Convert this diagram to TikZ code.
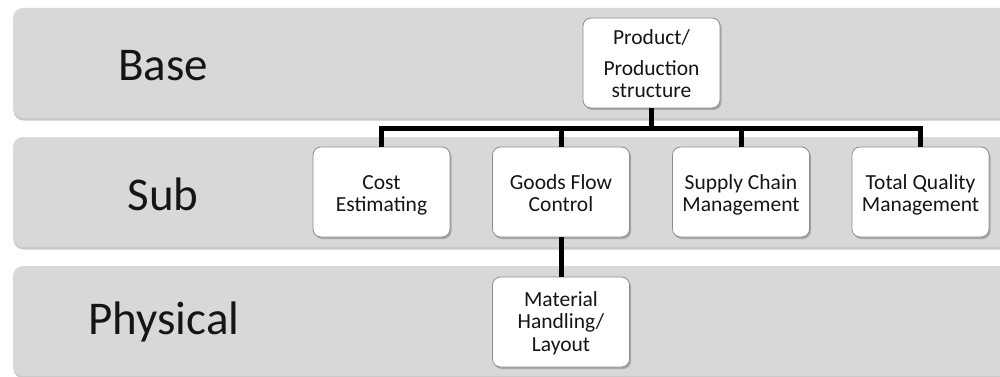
\documentclass[tikz,border=0pt]{standalone}
\usepackage{fontspec}
\setmainfont{Carlito}
\usetikzlibrary{shadows}
\definecolor{bandgray}{HTML}{D8D8D8}
\definecolor{boxedge}{HTML}{8C8C8C}
\definecolor{inktext}{HTML}{151515}
% stacked, centred lines of a unit, set a little below the box centre
\newcommand{\unitlines}[2][4pt]{\raisebox{-#1}[\height][\depth]{\begin{tabular}{@{}c@{}}#2\end{tabular}}}
\begin{document}
\begin{tikzpicture}[x=1pt,y=-1pt,
  band/.style={fill=bandgray, draw=none, rounded corners=10pt,
    drop shadow={shadow xshift=0.5pt, shadow yshift=-2.5pt, opacity=0.35, fill=black!60}},
  bandlabel/.style={font=\fontsize{47}{52}\selectfont, text=inktext, anchor=center},
  unit/.style={draw=boxedge, line width=0.8pt, fill=white, rounded corners=8pt,
    minimum width=137pt, minimum height=90pt, inner sep=0pt,
    font=\fontsize{21.5}{22.5}\selectfont, text=inktext,
    drop shadow={shadow xshift=1.5pt, shadow yshift=-2pt, opacity=0.35, fill=black!70}},
  conn/.style={line width=5pt, draw=black, line join=miter}
]
\useasboundingbox (0,0) rectangle (1000,377);
\clip (0,0) rectangle (1000,377);
\fill[white] (0,0) rectangle (1000,377);

% layer bands
\path[band] (13,8) rectangle (1015,118);
\path[band] (13,137) rectangle (1015,247);
\path[band] (13,266) rectangle (1015,376);

\node[bandlabel] (lbase) at (163,66) {Base};
\node[bandlabel] (lsub) at (163,194) {Sub};
\node[bandlabel] (lphys) at (164,322) {Physical};

% units
\node[unit] (prod) at (651.5,63) {\unitlines{Product/\\[8pt]Production\\structure}};
\node[unit] (cost) at (381.5,192) {\unitlines{Cost\\Estimating}};
\node[unit] (goods) at (561,192) {\unitlines{Goods Flow\\Control}};
\node[unit] (supply) at (741,192) {\unitlines{Supply Chain\\Management}};
\node[unit] (tqm) at (920.5,192) {\unitlines{Total Quality\\Management}};
\node[unit] (mat) at (561,322) {\unitlines[2pt]{Material\\Handling/\\Layout}};

% tree connectors
\coordinate (bus) at (651.5,128);
\draw[conn] (prod.south) -- (bus);
\draw[conn] (cost.north) -- (cost.north |- bus) -- (tqm.north |- bus) -- (tqm.north);
\draw[conn] (goods.north) -- (goods.north |- bus);
\draw[conn] (supply.north) -- (supply.north |- bus);
\draw[conn] (goods.south) -- (mat.north);
\end{tikzpicture}
\end{document}
